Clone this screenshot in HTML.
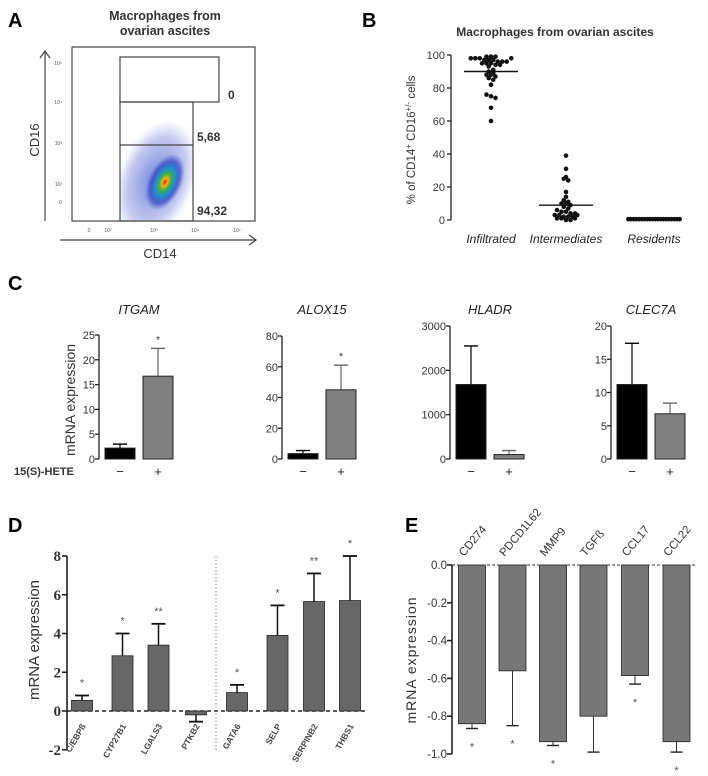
<!DOCTYPE html>
<html><head><meta charset="utf-8"><style>
html,body{margin:0;padding:0;background:#fff;}
svg{display:block;font-family:"Liberation Sans",sans-serif;}
</style></head><body>
<svg id="fig" width="708" height="776" viewBox="0 0 708 776" xmlns="http://www.w3.org/2000/svg">
<defs>
<radialGradient id="dens" cx="50%" cy="50%" r="50%">
<stop offset="0" stop-color="#d42a10"/>
<stop offset="0.15" stop-color="#f0b020"/>
<stop offset="0.3" stop-color="#40b040"/>
<stop offset="0.5" stop-color="#2090d0"/>
<stop offset="0.75" stop-color="#3040c0" stop-opacity="0.7"/>
<stop offset="1" stop-color="#4050d0" stop-opacity="0"/>
</radialGradient>
<radialGradient id="densOuter" cx="50%" cy="50%" r="50%">
<stop offset="0" stop-color="#3050d0" stop-opacity="0.7"/>
<stop offset="0.7" stop-color="#5060d0" stop-opacity="0.35"/>
<stop offset="1" stop-color="#6070e0" stop-opacity="0"/>
</radialGradient>
</defs>
<!-- Panel A -->
<g>
<text x="8" y="27" font-size="20" font-weight="bold">A</text>
<text x="165" y="20" font-size="12.5" font-weight="bold" fill="#333" text-anchor="middle">Macrophages from</text>
<text x="165" y="35" font-size="12.5" font-weight="bold" fill="#333" text-anchor="middle">ovarian ascites</text>
<ellipse cx="156" cy="180" rx="38" ry="62" transform="rotate(20 156 180)" fill="url(#densOuter)"/>
<ellipse cx="165" cy="182" rx="17" ry="30" transform="rotate(25 165 182)" fill="url(#dens)"/>
<rect x="73" y="48" width="47" height="172" fill="#fff"/>
<rect x="194" y="103" width="60" height="117" fill="#fff"/>
<rect x="120" y="220" width="74" height="20" fill="#fff"/>
<rect x="72" y="47" width="183" height="174" fill="none" stroke="#444" stroke-width="1.2"/>
<rect x="120" y="57" width="99" height="45" fill="#fff" stroke="#444" stroke-width="1.2"/>
<rect x="120" y="102" width="73" height="119" fill="none" stroke="#444" stroke-width="1.2"/>
<line x1="120" y1="145" x2="193" y2="145" stroke="#444" stroke-width="1.2"/>
<text x="228" y="99" font-size="12" fill="#333" font-weight="bold">0</text>
<text x="197" y="141" font-size="12" fill="#333" font-weight="bold">5,68</text>
<text x="197" y="215" font-size="12" fill="#333" font-weight="bold">94,32</text>
<g font-size="5" fill="#555">
<text x="62" y="65" text-anchor="end">10⁵</text><text x="62" y="104" text-anchor="end">10⁴</text>
<text x="62" y="145" text-anchor="end">10³</text><text x="62" y="186" text-anchor="end">10²</text>
<text x="62" y="204" text-anchor="end">0</text>
</g>
<g font-size="5" fill="#555" text-anchor="middle">
<text x="89" y="232">0</text><text x="108" y="232">10²</text><text x="154" y="232">10³</text>
<text x="195" y="232">10⁴</text><text x="237" y="232">10⁵</text>
</g>
<line x1="45" y1="221" x2="45" y2="51" stroke="#444" stroke-width="1.2"/>
<polyline points="40,58 45,51 50,58" fill="none" stroke="#444" stroke-width="1.2"/>
<line x1="60" y1="240" x2="256" y2="240" stroke="#444" stroke-width="1.2"/>
<polyline points="249,235 256,240 249,245" fill="none" stroke="#444" stroke-width="1.2"/>
<text x="0" y="0" font-size="13" fill="#333" text-anchor="middle" transform="translate(39 140) rotate(-90)">CD16</text>
<text x="160" y="258" font-size="13" fill="#333" text-anchor="middle">CD14</text>
</g>
<!-- Panel B -->
<g id="panelB">
<text x="362" y="27" font-size="20" font-weight="bold">B</text>
<text x="555" y="36" font-size="12" font-weight="bold" fill="#333" text-anchor="middle">Macrophages from ovarian ascites</text>
<text x="0" y="0" font-size="11.5" fill="#333" text-anchor="middle" transform="translate(415 140) rotate(-90)">% of CD14<tspan dy="-4" font-size="8">+</tspan><tspan dy="4"> CD16</tspan><tspan dy="-4" font-size="8">+/-</tspan><tspan dy="4"> cells</tspan></text>
</g>
<!-- Panel C -->
<g id="panelC">
<text x="8" y="290" font-size="20" font-weight="bold">C</text>
<text x="0" y="0" font-size="14" fill="#333" text-anchor="middle" transform="translate(75 400) rotate(-90)">mRNA expression</text>
<text x="14" y="475" font-size="11" font-weight="bold" fill="#333">15(S)-HETE</text>
</g>
<!-- Panel D -->
<g id="panelD">
<text x="8" y="532" font-size="20" font-weight="bold">D</text>
<text x="0" y="0" font-size="15" fill="#333" text-anchor="middle" transform="translate(39 640) rotate(-90)">mRNA expression</text>
</g>
<!-- Panel E -->
<g id="panelE">
<text x="405" y="532" font-size="20" font-weight="bold">E</text>
<text x="0" y="0" font-size="14" fill="#333" text-anchor="middle" letter-spacing="1" transform="translate(416 660) rotate(-90)">mRNA expression</text>
</g>
</svg>
<script>
// ---- Panel B data ----
const bCategories = ['Infiltrated','Intermediates','Residents'];
const bInfiltrated = [99,99,98,98,98,97,97,97,96,96,96,95,95,95,94,94,93,99,98,91,90,89,88,88,87,86,85,82,76,75,74,68,60];
const bIntermediates = [39,31,26,25,24,17,14,12,11,10,10,9,8,7,6,5,5,4,4,3,3,2,2,1,1,0,0,1,2,3];
const bResidents = [0.5,0.5,0.5,0.5,0.5,0.5,0.5,0.5,0.5,0.5,0.5,0.5,0.5,0.5,0.5,0.5,0.5,0.5,0.5,0.5];
const bMeans = [90,9,0.5];
const bTicks = [0,20,40,60,80,100];
// ---- Panel C data ----
const cGenes = ['ITGAM','ALOX15','HLADR','CLEC7A'];
const cMinus = [2.2,3.5,1680,11.2];
const cMinusErr = [3.0,5.5,2550,17.4];
const cPlus = [16.7,45,100,6.8];
const cPlusErr = [22.3,61,190,8.4];
const cMax = [25,80,3000,20];
const cStep = [5,20,1000,5];
const cStars = ['*','*','',''];
// ---- Panel D data ----
const dGenes = ['C/EBPß','CYP27B1','LGALS3','PTKB2','GATA6','SELP','SERPINB2','THBS1'];
const dValues = [0.55,2.85,3.4,-0.2,0.95,3.9,5.65,5.7];
const dErr = [0.8,4.0,4.5,-0.55,1.35,5.45,7.1,8.0];
const dStars = ['*','*','**','','*','*','**','*'];
const dTicks = [-2,0,2,4,6,8];
// ---- Panel E data ----
const eGenes = ['CD274','PDCD1L62','MMP9','TGFß','CCL17','CCL22'];
const eValues = [-0.84,-0.56,-0.935,-0.80,-0.585,-0.935];
const eErr = [-0.865,-0.85,-0.955,-0.99,-0.63,-0.99];
const eStars = ['*','*','*','','*','*'];
const eTicks = [0,-0.2,-0.4,-0.6,-0.8,-1.0];

const NS='http://www.w3.org/2000/svg';
function mk(parent,tag,attrs,txt){const e=document.createElementNS(NS,tag);for(const k in attrs)e.setAttribute(k,attrs[k]);if(txt!==undefined)e.textContent=txt;parent.appendChild(e);return e;}

// ===== Panel B =====
(function(){
  const g=document.getElementById('panelB');
  const ax=451, y0=220, y1=55;
  const yB=v=>y0-(v/100)*(y0-y1);
  const xC=[491,566,654];
  const axis=mk(g,'path',{d:`M${ax} ${yB(100)}V${yB(0)}`,stroke:'#222','stroke-width':1.3,fill:'none'});
  
  
  bTicks.forEach(t=>{
    const tk=mk(g,'line',{x1:ax-4,x2:ax,y1:yB(t),y2:yB(t),stroke:'#222','stroke-width':1.3});
    
    
    const tl=mk(g,'text',{x:ax-6,y:yB(t)+4,'font-size':11,'text-anchor':'end',fill:'#333'},String(t));
    
    
  });
  const groups=[bInfiltrated,bIntermediates,bResidents];
  groups.forEach((vals,ci)=>{
    const bins={};
    vals.forEach(v=>{const b=Math.round(yB(v)/4);(bins[b]=bins[b]||[]).push(v);});
    Object.keys(bins).forEach(b=>{
      const arr=bins[b];
      const sp=Math.min(4.5,54/arr.length);
      arr.forEach((v,i)=>{
        const off=(i-(arr.length-1)/2)*sp;
        const p=mk(g,'circle',{cx:xC[ci]+off,cy:yB(v),r:2.3,fill:'#111'});
        
        
      });
    });
    const m=mk(g,'line',{x1:xC[ci]-27,x2:xC[ci]+27,y1:yB(bMeans[ci]),y2:yB(bMeans[ci]),stroke:'#111','stroke-width':1.4});
    
    
    const lb=mk(g,'text',{x:xC[ci],y:243,'font-size':12,'font-style':'italic','text-anchor':'middle',fill:'#222'},bCategories[ci]);
    
    
  });
})();

// ===== Panel C =====
(function(){
  const g=document.getElementById('panelC');
  const axX=[99,282,450,611], tops=[335,336,326,326], bot=459;
  cGenes.forEach((gene,i)=>{
    const ax=axX[i], top=tops[i];
    const y=v=>bot-(v/cMax[i])*(bot-top);
    const t=mk(g,'text',{x:ax+40,y:314,'font-size':13,'font-style':'italic','text-anchor':'middle',fill:'#222'},gene);
    
    
    const a=mk(g,'path',{d:`M${ax} ${top}V${bot}`,stroke:'#222','stroke-width':1.3,fill:'none'});
    
    
    for(let v=0;v<=cMax[i]+1e-9;v+=cStep[i]){
      const tk=mk(g,'line',{x1:ax-4,x2:ax,y1:y(v),y2:y(v),stroke:'#222','stroke-width':1.3});
      
      
      const tl=mk(g,'text',{x:ax-4,y:y(v)+4,'font-size':11,'text-anchor':'end',fill:'#333'},String(v));
      
      
    }
    const bars=[[cMinus[i],cMinusErr[i],ax+6,'#000','#000'],[cPlus[i],cPlusErr[i],ax+44,'#808080','#666']];
    bars.forEach((b,k)=>{
      const [v,e,x,fill,ec]=b, w=30;
      const el=mk(g,'line',{x1:x+w/2,x2:x+w/2,y1:y(v),y2:y(e),stroke:ec,'stroke-width':1.2});
      
      
      const cap=mk(g,'line',{x1:x+w/2-7,x2:x+w/2+7,y1:y(e),y2:y(e),stroke:ec,'stroke-width':1.4});
      
      
      const r=mk(g,'rect',{x:x,y:y(v),width:w,height:bot-y(v),fill:fill,stroke:'#222','stroke-width':1});
      
      
      const sg=mk(g,'text',{x:x+w/2,y:476,'font-size':13,'text-anchor':'middle',fill:'#222'},k===0?'−':'+');
      
      
    });
    if(cStars[i]){
      const s=mk(g,'text',{x:ax+59,y:y(cPlusErr[i])-5,'font-size':11,'text-anchor':'middle',fill:'#444'},cStars[i]);
      
      
    }
  });
})();

// ===== Panel D =====
(function(){
  const g=document.getElementById('panelD');
  const ax=67, yT=556, yZ=711;
  const y=v=>yZ-v*(yZ-yT)/8;
  const xs=[82,122.5,158.5,196,237,277.5,314,350];
  const a=mk(g,'path',{d:`M${ax} ${y(8)}V${y(-2)}`,stroke:'#222','stroke-width':1.6,fill:'none'});
  
  
  dTicks.forEach(t=>{
    const tk=mk(g,'line',{x1:ax-5,x2:ax,y1:y(t),y2:y(t),stroke:'#222','stroke-width':1.6});
    
    
    const tl=mk(g,'text',{x:ax-6,y:y(t)+5,'font-size':15,'font-weight':'bold','font-family':'Liberation Serif, serif','text-anchor':'end',fill:'#333'},String(t));
    
    
  });
  const base=mk(g,'line',{x1:ax,x2:368,y1:yZ,y2:yZ,stroke:'#222','stroke-width':1.6,'stroke-dasharray':'4 3'});
  
  
  const sep=mk(g,'line',{x1:216,x2:216,y1:556,y2:751,stroke:'#666','stroke-width':0.8,'stroke-dasharray':'1.5 2'});
  
  
  dGenes.forEach((gene,i)=>{
    const cx=xs[i], w=21, v=dValues[i], e=dErr[i];
    const el=mk(g,'line',{x1:cx,x2:cx,y1:y(v),y2:y(e),stroke:'#111','stroke-width':1.5});
    
    
    const cap=mk(g,'line',{x1:cx-7,x2:cx+7,y1:y(e),y2:y(e),stroke:'#111','stroke-width':1.8});
    
    
    const r=mk(g,'rect',{x:cx-w/2,y:Math.min(y(v),yZ),width:w,height:Math.abs(y(v)-yZ),fill:'#676767',stroke:'#222','stroke-width':0.8});
    
    
    if(dStars[i]){
      const s=mk(g,'text',{x:cx,y:y(e)-9,'font-size':11,'text-anchor':'middle',fill:'#555'},dStars[i]);
      
      
    }
    const lb=mk(g,'text',{x:0,y:0,'font-size':8.5,'font-weight':'bold','text-anchor':'end',fill:'#444',transform:`translate(${cx+4} ${726}) rotate(-60)`},gene);
    
    
  });
})();

// ===== Panel E =====
(function(){
  const g=document.getElementById('panelE');
  const ax=452, yZ=565, yB=754;
  const y=v=>yZ+(-v)*(yB-yZ);
  const xs=[472,512.5,553,593.5,635,676.5];
  const a=mk(g,'path',{d:`M${ax} ${yZ}V${yB}`,stroke:'#222','stroke-width':1.6,fill:'none'});
  
  
  eTicks.forEach(t=>{
    const tk=mk(g,'line',{x1:ax-5,x2:ax,y1:y(t),y2:y(t),stroke:'#222','stroke-width':1.6});
    
    
    const tl=mk(g,'text',{x:ax-5,y:y(t)+4,'font-size':11.5,'text-anchor':'end',fill:'#333'},t.toFixed(1));
    
    
  });
  eGenes.forEach((gene,i)=>{
    const cx=xs[i], w=27, v=eValues[i], e=eErr[i];
    const el=mk(g,'line',{x1:cx,x2:cx,y1:y(v),y2:y(e),stroke:'#333','stroke-width':1});
    
    
    const cap=mk(g,'line',{x1:cx-6,x2:cx+6,y1:y(e),y2:y(e),stroke:'#222','stroke-width':1.4});
    
    
    const r=mk(g,'rect',{x:cx-w/2,y:yZ,width:w,height:y(v)-yZ,fill:'#777',stroke:'#222','stroke-width':0.8});
    
    
    if(eStars[i]){
      const s=mk(g,'text',{x:cx,y:y(Math.min(e,v))+22,'font-size':11,'text-anchor':'middle',fill:'#555'},eStars[i]);
      
      
    }
    const lb=mk(g,'text',{x:0,y:0,'font-size':11.5,'text-anchor':'start',fill:'#333',transform:`translate(${cx-8} ${557}) rotate(-50)`},gene);
    
    
  });
  const base=mk(g,'line',{x1:ax,x2:697,y1:yZ,y2:yZ,stroke:'#333','stroke-width':1,'stroke-dasharray':'3 2'});
  
  
})();
</script>
</body></html>
